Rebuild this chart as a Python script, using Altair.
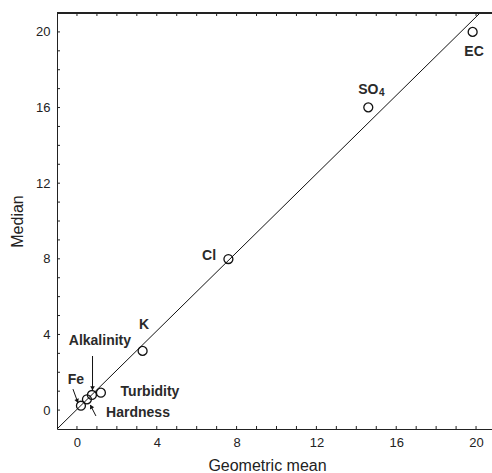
import math
import altair as alt
import pandas as pd

# ---- data ----
names = ["Fe", "Hardness", "Alkalinity", "Turbidity", "K", "Cl", "SO", "EC"]
geo_mean = [0.2, 0.5, 0.75, 1.2, 3.29, 7.59, 14.6, 19.83]
median = [0.23, 0.57, 0.8, 0.92, 3.13, 7.99, 16.01, 20.0]

# label anchor positions (data units)
label_x = [-0.05, 3.06, 1.15, 3.66, 3.36, 6.62, 14.6, 19.9]
label_y = [1.59, -0.15, 3.65, 0.96, 4.5, 8.15, 16.93, 18.94]

# subscript of the SO4 label (data units)
sub_text = ["4"]
sub_x = [15.28]
sub_y = [16.76]

# fitted line end points (data units)
fit_x = [-1.0, 20.2]
fit_y = [-1.0, 21.0]

# annotation arrows (data units): Fe, Alkalinity, Hardness
arrow_x0 = [-0.2, 0.78, 0.95]
arrow_y0 = [1.11, 2.86, -0.31]
arrow_x1 = [0.05, 0.78, 0.67]
arrow_y1 = [0.39, 1.06, 0.27]

x_ticks = list(range(0, 21))
y_ticks = list(range(0, 21))
axis_values = [0, 4, 8, 12, 16, 20]

X_DOM = [-1, 20.8]
Y_DOM = [-1, 21]
W, H = 435, 416
FONT = "Liberation Sans"
INK = "#222222"

xs = alt.Scale(domain=X_DOM, nice=False, zero=False)
ys = alt.Scale(domain=Y_DOM, nice=False, zero=False)

pts = pd.DataFrame({"name": names, "gm": geo_mean, "med": median,
                    "lx": label_x, "ly": label_y})
sub = pd.DataFrame({"t": sub_text, "x": sub_x, "y": sub_y})
fit = pd.DataFrame({"x": fit_x, "y": fit_y})

# arrow heads: place slightly back from the tip, rotated along the shaft
kx = W / (X_DOM[1] - X_DOM[0])
ky = H / (Y_DOM[1] - Y_DOM[0])
heads = []
for x0, y0, x1, y1 in zip(arrow_x0, arrow_y0, arrow_x1, arrow_y1):
    dxp = (x1 - x0) * kx
    dyp = -(y1 - y0) * ky
    L = math.hypot(dxp, dyp)
    ang = math.degrees(math.atan2(dxp, -dyp)) % 360
    back = 2.5
    hx = x1 - (dxp / L) * back / kx
    hy = y1 + (dyp / L) * back / ky
    heads.append({"x": hx, "y": hy, "ang": ang})
arrows = pd.DataFrame({"x0": arrow_x0, "y0": arrow_y0, "x1": arrow_x1, "y1": arrow_y1})
heads = pd.DataFrame(heads)
xt = pd.DataFrame({"v": x_ticks})
yt = pd.DataFrame({"v": y_ticks})

base_x_axis = alt.Axis(values=axis_values, ticks=False, grid=False, domain=True,
                       domainColor=INK, domainWidth=1, labelFont=FONT, labelFontSize=13,
                       labelColor=INK, labelPadding=7, title="Geometric mean",
                       titleFont=FONT, titleFontSize=16, titleFontWeight="normal",
                       titleColor=INK, titlePadding=8, titleX=210)
base_y_axis = alt.Axis(values=axis_values, ticks=False, grid=False, domain=True,
                       domainColor=INK, domainWidth=1, labelFont=FONT, labelFontSize=13,
                       labelColor=INK, labelPadding=7, title="Median",
                       titleFont=FONT, titleFontSize=16, titleFontWeight="normal",
                       titleColor=INK, titlePadding=10)

line = alt.Chart(fit).mark_line(color="#111111", strokeWidth=1, clip=True).encode(
    x=alt.X("x:Q", scale=xs, axis=base_x_axis),
    y=alt.Y("y:Q", scale=ys, axis=base_y_axis),
)

points = alt.Chart(pts).mark_point(shape="circle", size=80, filled=False,
                                   color="#111111", strokeWidth=1.3, opacity=1).encode(
    x=alt.X("gm:Q", scale=xs), y=alt.Y("med:Q", scale=ys))

labels = alt.Chart(pts).mark_text(font=FONT, fontSize=14, fontWeight="bold",
                                  color="#2a2a2a", align="center", baseline="middle").encode(
    x=alt.X("lx:Q", scale=xs), y=alt.Y("ly:Q", scale=ys), text="name:N")

sub_labels = alt.Chart(sub).mark_text(font=FONT, fontSize=10, fontWeight="bold",
                                      color="#2a2a2a", align="center", baseline="middle").encode(
    x=alt.X("x:Q", scale=xs), y=alt.Y("y:Q", scale=ys), text="t:N")

shafts = alt.Chart(arrows).mark_rule(color="#111111", strokeWidth=1).encode(
    x=alt.X("x0:Q", scale=xs), y=alt.Y("y0:Q", scale=ys),
    x2="x1:Q", y2="y1:Q")

arrowheads = alt.Chart(heads).mark_point(shape="triangle", size=22, filled=True,
                                         color="#111111", opacity=1).encode(
    x=alt.X("x:Q", scale=xs), y=alt.Y("y:Q", scale=ys), angle=alt.Angle("ang:Q", scale=None))

top_line = alt.Chart(xt).mark_rule(color=INK, strokeWidth=1).encode(
    x=alt.value(0), x2=alt.value(W), y=alt.value(0))

top_ticks = alt.Chart(xt).mark_rule(color=INK, strokeWidth=1).encode(
    x=alt.X("v:Q", scale=xs), y=alt.value(0), y2=alt.value(3))
bottom_ticks = alt.Chart(xt).mark_rule(color=INK, strokeWidth=1).encode(
    x=alt.X("v:Q", scale=xs), y=alt.value(H), y2=alt.value(H - 3))
left_ticks = alt.Chart(yt).mark_rule(color=INK, strokeWidth=1).encode(
    y=alt.Y("v:Q", scale=ys), x=alt.value(0), x2=alt.value(3))

chart = alt.layer(line, points, labels, sub_labels, shafts, arrowheads, top_line,
                  top_ticks, bottom_ticks, left_ticks).properties(
    width=W, height=H,
    autosize=alt.AutoSizeParams(type="none"),
    padding={"left": 57, "top": 13, "right": 0, "bottom": 44},
    background="white",
).configure_view(stroke=None)

chart.save("out.html", embed_options={"renderer": "svg", "actions": False})
